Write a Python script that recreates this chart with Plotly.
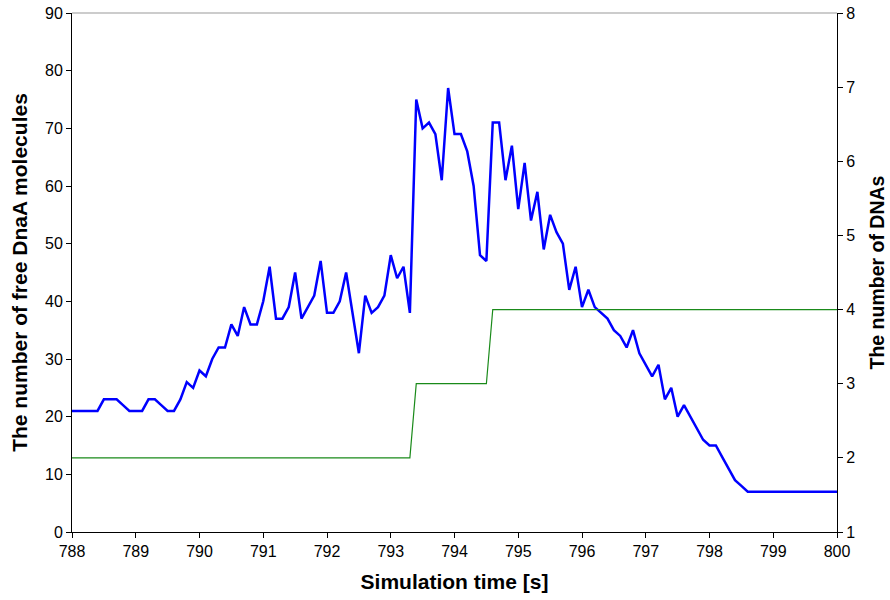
import plotly.graph_objects as go

# time points 788.0 .. 800.0 step 0.1
t_start = 788.0
n_points = 121
time_s = [round(t_start + 0.1 * i, 1) for i in range(n_points)]

free_dnaa = [
    21, 21, 21, 21, 21, 23, 23, 23, 22, 21,   # 788.0-788.9
    21, 21, 23, 23, 22, 21, 21, 23, 26, 25,   # 789.0-789.9
    28, 27, 30, 32, 32, 36, 34, 39, 36, 36,   # 790.0-790.9
    40, 46, 37, 37, 39, 45, 37, 39, 41, 47,   # 791.0-791.9
    38, 38, 40, 45, 38, 31, 41, 38, 39, 41,   # 792.0-792.9
    48, 44, 46, 38, 75, 70, 71, 69, 61, 77,   # 793.0-793.9
    69, 69, 66, 60, 48, 47, 71, 71, 61, 67,   # 794.0-794.9
    56, 64, 54, 59, 49, 55, 52, 50, 42, 46,   # 795.0-795.9
    39, 42, 39, 38, 37, 35, 34, 32, 35, 31,   # 796.0-796.9
    29, 27, 29, 23, 25, 20, 22, 20, 18, 16,   # 797.0-797.9
    15, 15, 13, 11, 9, 8, 7, 7, 7, 7,         # 798.0-798.9
    7, 7, 7, 7, 7, 7, 7, 7, 7, 7,             # 799.0-799.9
    7,                                        # 800.0
]

num_dnas = (
    [2] * 54 +   # 788.0-793.3
    [3] * 12 +   # 793.4-794.5
    [4] * 55     # 794.6-800.0
)

x_ticks = list(range(788, 801))
left_ticks = list(range(0, 91, 10))
right_ticks = list(range(1, 9))

fig = go.Figure()
fig.add_trace(go.Scatter(
    x=time_s, y=num_dnas, mode="lines", yaxis="y2",
    line=dict(color="#1a8a1a", width=1.2), showlegend=False,
))
fig.add_trace(go.Scatter(
    x=time_s, y=free_dnaa, mode="lines",
    line=dict(color="#0000ff", width=2.5), showlegend=False,
))

font_family = "Liberation Sans, Arial, sans-serif"
fig.update_layout(
    width=890, height=600,
    margin=dict(l=72, r=53, t=13, b=68),
    paper_bgcolor="white", plot_bgcolor="white",
    font=dict(family=font_family, size=16, color="black"),
    xaxis=dict(
        range=[788, 800], tickvals=x_ticks, ticktext=[str(v) for v in x_ticks],
        showgrid=False, zeroline=False, showline=True, linecolor="black", linewidth=1,
        ticks="outside", ticklen=5, tickcolor="black", automargin=False,
        title=dict(text="<b>Simulation time [s]</b>", font=dict(size=21, family=font_family), standoff=15),
    ),
    yaxis=dict(
        range=[0, 90], tickvals=left_ticks,
        showgrid=False, zeroline=False, showline=True, linecolor="black", linewidth=1,
        ticks="outside", ticklen=5, tickcolor="black", automargin=False,
        title=dict(text="<b>The number of free DnaA molecules</b>", font=dict(size=21, family=font_family), standoff=11),
    ),
    yaxis2=dict(
        range=[1, 8], tickvals=right_ticks, overlaying="y", side="right",
        showgrid=False, zeroline=False, showline=True, linecolor="black", linewidth=1,
        ticks="outside", ticklen=5, tickcolor="black", automargin=False,
        title=dict(text="<b>The number of DNAs</b>", font=dict(size=19.5, family=font_family), standoff=16),
    ),
    shapes=[dict(type="line", xref="paper", yref="paper", x0=0, x1=1, y0=1, y1=1,
                 line=dict(color="#999999", width=1))],
)

fig.write_html("out.html")
